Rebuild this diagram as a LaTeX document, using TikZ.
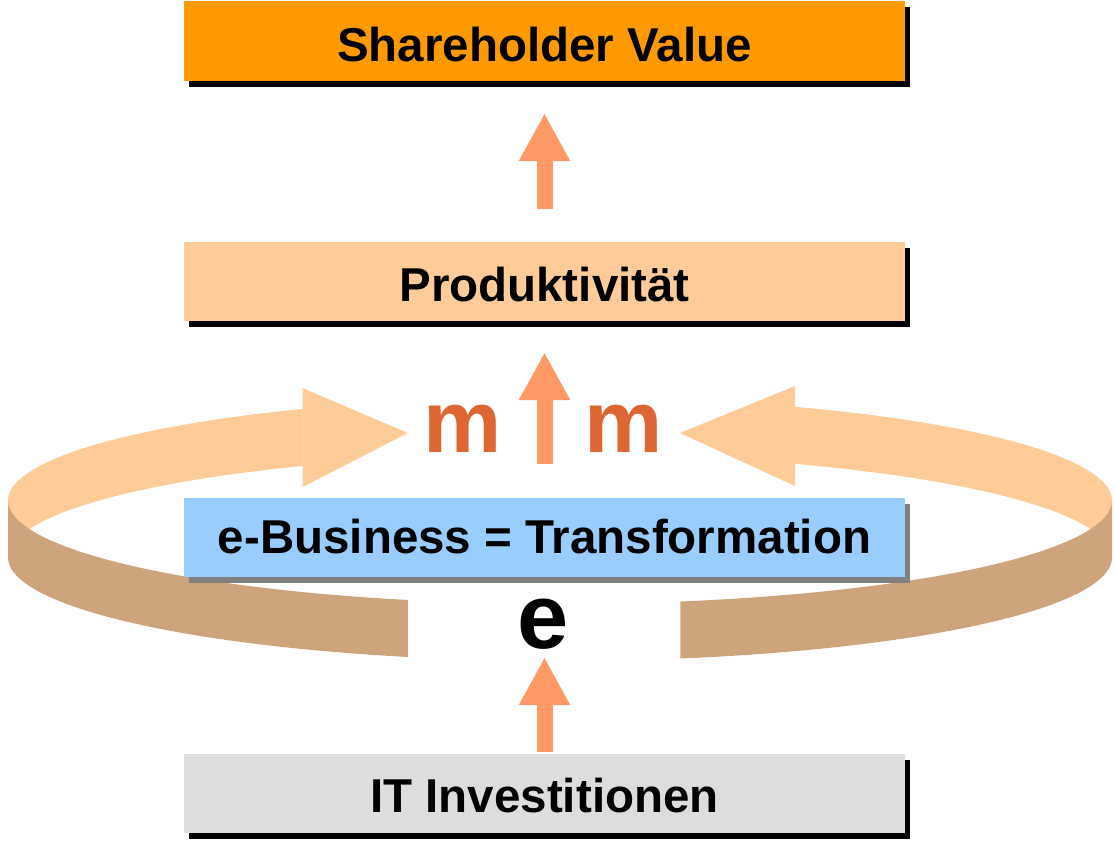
\documentclass[tikz,border=0pt]{standalone}
\usepackage{fontspec}
\setmainfont{Liberation Sans}
\usetikzlibrary{arrows.meta,shadows}
\definecolor{svorange}{HTML}{FF9900}
\definecolor{peach}{HTML}{FFCC99}
\definecolor{skyblue}{HTML}{99CCFF}
\definecolor{lightgr}{HTML}{DDDDDD}
\definecolor{ringtan}{HTML}{CDA47B}
\definecolor{arrowor}{HTML}{FF9966}
\definecolor{mcol}{HTML}{DD6633}
\definecolor{shadowgr}{HTML}{808080}
\begin{document}
\begin{tikzpicture}[x=1pt,y=-1pt,
  box/.style={rectangle, minimum width=721pt, minimum height=79pt, inner sep=0pt,
    font=\fontsize{47.5}{50}\selectfont\bfseries, text depth=0pt},
  blackshadow/.style={drop shadow={shadow xshift=5pt, shadow yshift=-6pt, fill=black, opacity=1}},
  grayshadow/.style={drop shadow={shadow xshift=5pt, shadow yshift=-6pt, fill=shadowgr, opacity=1}},
  bigarrow/.style={draw=arrowor, line width=16pt, -{Triangle[width=48pt,length=48pt]}},
  mtext/.style={text=mcol, inner sep=0pt, font=\fontsize{88}{90}\selectfont\bfseries},
  etext/.style={text=black, inner sep=0pt, font=\fontsize{92}{94}\selectfont\bfseries}
]
\useasboundingbox (0,0) rectangle (1115,843);

% ring: back (inner) surfaces
\fill[peach] plot[domain=242.2:180, samples=80] ({560+552*cos(\x)},{500.5+103.5*sin(\x)})
  -- plot[domain=180:242.2, samples=80] ({560+552*cos(\x)},{557.5+103.5*sin(\x)}) -- cycle;
\fill[peach] (302.5,388) -- (408,433) -- (302.5,487) -- cycle;
\fill[peach] plot[domain=295.2:360, samples=80] ({560+552*cos(\x)},{500.5+103.5*sin(\x)})
  -- plot[domain=360:295.2, samples=80] ({560+552*cos(\x)},{557.5+103.5*sin(\x)}) -- cycle;
\fill[peach] (795,386) -- (680,433) -- (795,486) -- cycle;
% ring: front (outer) surfaces
\fill[ringtan] plot[domain=180:106, samples=80] ({560+552*cos(\x)},{500.5+103.5*sin(\x)})
  -- plot[domain=106:180, samples=80] ({560+552*cos(\x)},{557.5+103.5*sin(\x)}) -- cycle;
\fill[ringtan] plot[domain=0:77.4, samples=80] ({560+552*cos(\x)},{500.5+103.5*sin(\x)})
  -- plot[domain=77.4:0, samples=80] ({560+552*cos(\x)},{557.5+103.5*sin(\x)}) -- cycle;

% boxes
\node[box, fill=svorange, blackshadow, text height=40.7pt] (sv) at (544.5,41) {Shareholder Value};
\node[box, fill=peach, blackshadow, text height=40.7pt] (prod) at (544.5,281) {Produktivität};
\node[box, fill=skyblue, grayshadow, text height=32pt] (eb) at (544.5,537) {e-Business = Transformation};
\node[box, fill=lightgr, blackshadow, text height=38.7pt] (it) at (544.5,793) {IT Investitionen};

% letters
\node[mtext] (m1) at (463,429) {m};
\node[mtext] (m2) at (624,429) {m};
\node[etext] (e) at (543,624) {e};

% arrows
\draw[bigarrow] ([yshift=32.5pt]prod.north) -- ([yshift=-32.5pt]sv.south);
\draw[bigarrow] ([yshift=33.5pt]eb.north) -- ([yshift=-31.5pt]prod.south);
\draw[bigarrow] ([yshift=1.5pt]it.north) -- ([yshift=-80.5pt]eb.south);
\end{tikzpicture}
\end{document}
